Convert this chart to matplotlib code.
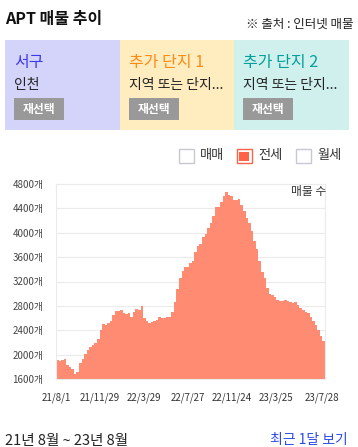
"""Recreate the APT listing trend card (jeonse listings, weekly)."""

import matplotlib
matplotlib.use("Agg")
import matplotlib.pyplot as plt
from matplotlib.patches import Rectangle
import numpy as np

plt.rcParams["font.family"] = ["Noto Sans CJK KR", "DejaVu Sans"]

W, H = 358, 447

# weekly jeonse listing counts, starting 2021-08-01
start_date = np.datetime64("2021-08-01")
listing_counts = [
    1910, 1895, 1910, 1930, 1830, 1790, 1760, 1690, 1720, 1860,
    1930, 2010, 2080, 2120, 2160, 2185, 2250, 2410, 2500, 2490,
    2520, 2550, 2650, 2716, 2720, 2740, 2680, 2670, 2690, 2620,
    2700, 2750, 2730, 2798, 2600, 2557, 2525, 2540, 2550, 2575,
    2610, 2606, 2606, 2610, 2622, 2700, 2870, 3080, 3260, 3380,
    3440, 3430, 3500, 3540, 3690, 3790, 3820, 3925, 3980, 4085,
    4160, 4270, 4420, 4420, 4500, 4600, 4670, 4620, 4600, 4530,
    4540, 4560, 4450, 4350, 4250, 4165, 4030, 3860, 3740, 3530,
    3350, 3250, 3100, 3000, 2975, 2940, 2900, 2880, 2880, 2896,
    2885, 2860, 2842, 2858, 2810, 2770, 2730, 2700, 2680, 2620,
    2550, 2486, 2400, 2310, 2228,
]
tick_dates = ["2021-08-01", "2021-11-29", "2022-03-29", "2022-07-27",
              "2022-11-24", "2023-03-25", "2023-07-28"]
tick_labels = ["21/8/1", "21/11/29", "22/3/29", "22/7/27",
               "22/11/24", "23/3/25", "23/7/28"]
y_ticks = [1600, 2000, 2400, 2800, 3200, 3600, 4000, 4400, 4800]

panel_titles = ["서구", "추가 단지 1", "추가 단지 2"]
panel_subtitles = ["인천", "지역 또는 단지...", "지역 또는 단지..."]
panel_colors = ["#d4d4fa", "#ffedc0", "#d0f0ee"]
title_colors = ["#3a3af0", "#ff8a12", "#00a09a"]
legend_labels = ["매매", "전세", "월세"]


def px(x, y):
    """Pixel position (top-left origin) to figure fraction."""
    return x / W, 1 - y / H


def box(fig, x0, y0, x1, y1, **kw):
    fx, fy = px(x0, y1)
    fig.add_artist(Rectangle((fx, fy), (x1 - x0) / W, (y1 - y0) / H,
                             transform=fig.transFigure, **kw))


fig = plt.figure(figsize=(W / 100, H / 100), dpi=100)
fig.patch.set_facecolor("white")

# header
fig.text(*px(5, 19), "APT 매물 추이", fontsize=11.5, fontweight="bold",
         va="center", ha="left", color="#111111")
fig.text(*px(354, 24), "※ 출처 : 인터넷 매물", fontsize=9,
         va="center", ha="right", color="#222222")

# selection panels
panel_left = [5, 120, 234]
for i in range(3):
    x0 = panel_left[i]
    x1 = panel_left[i + 1] if i < 2 else 349
    box(fig, x0, 40, x1, 130, facecolor=panel_colors[i], edgecolor="none")
    fig.text(*px(x0 + 9, 62), panel_titles[i], fontsize=11.5,
             color=title_colors[i], va="center", ha="left")
    fig.text(*px(x0 + 9, 85), panel_subtitles[i], fontsize=10,
             color="#222222", va="center", ha="left")
    box(fig, x0 + 9, 98, x0 + 59, 120, facecolor="#999999", edgecolor="none")
    fig.text(*px(x0 + 34, 109), "재선택", fontsize=8.5, fontweight="bold",
             color="white", va="center", ha="center")

# legend
legend_x = [179, 237, 296]
for i, label in enumerate(legend_labels):
    lx = legend_x[i]
    if i == 1:
        box(fig, lx, 149, lx + 15, 163, facecolor="white",
            edgecolor="#ff6347", linewidth=1.0)
        box(fig, lx + 2.5, 151.5, lx + 12.5, 160.5, facecolor="#ff6347",
            edgecolor="none")
    else:
        box(fig, lx, 149, lx + 15, 163, facecolor="white",
            edgecolor="#c8c8d2", linewidth=1.0)
    fig.text(*px(lx + 21, 156), label, fontsize=9.5, color="#333333",
             va="center", ha="left")

# chart
ax_l, ax_t, ax_r, ax_b = 56, 184, 325, 379
ax = fig.add_axes([ax_l / W, 1 - ax_b / H, (ax_r - ax_l) / W,
                   (ax_b - ax_t) / H])
week_dates = start_date + np.arange(len(listing_counts) + 1) * 7
values = listing_counts + [listing_counts[-1]]
ax.fill_between(week_dates.astype("datetime64[D]").astype(object), values,
                1600, step="post", color="#ff8c72", linewidth=0, zorder=2)

ax.set_xlim(week_dates[0].astype(object), week_dates[-1].astype(object))
ax.set_ylim(1600, 4800)
ax.set_yticks(y_ticks)
ax.set_yticklabels([f"{v}개" for v in y_ticks])
ax.set_xticks([np.datetime64(d).astype(object) for d in tick_dates])
ax.set_xticklabels(tick_labels)
ax.tick_params(axis="y", length=0, pad=9, labelsize=7, labelcolor="#444444")
ax.tick_params(axis="x", length=0, pad=10, labelsize=7, labelcolor="#333333")
ax.grid(True, axis="y", color="#ebebeb", linewidth=0.8, zorder=0)
ax.set_axisbelow(True)
for side in ax.spines.values():
    side.set_color("#ebebeb")
    side.set_linewidth(0.8)
ax.text(1.005, 0.96, "매물 수", transform=ax.transAxes, fontsize=8.5,
        color="#333333", ha="right", va="center")

# footer
fig.text(*px(5, 441), "21년 8월 ~ 23년 8월", fontsize=10.5, color="#222222",
         va="center", ha="left")
fig.text(*px(348, 440), "최근 1달 보기", fontsize=10, color="#2a4be8",
         va="center", ha="right")

fig.savefig("out.png", dpi=100, facecolor="white")
